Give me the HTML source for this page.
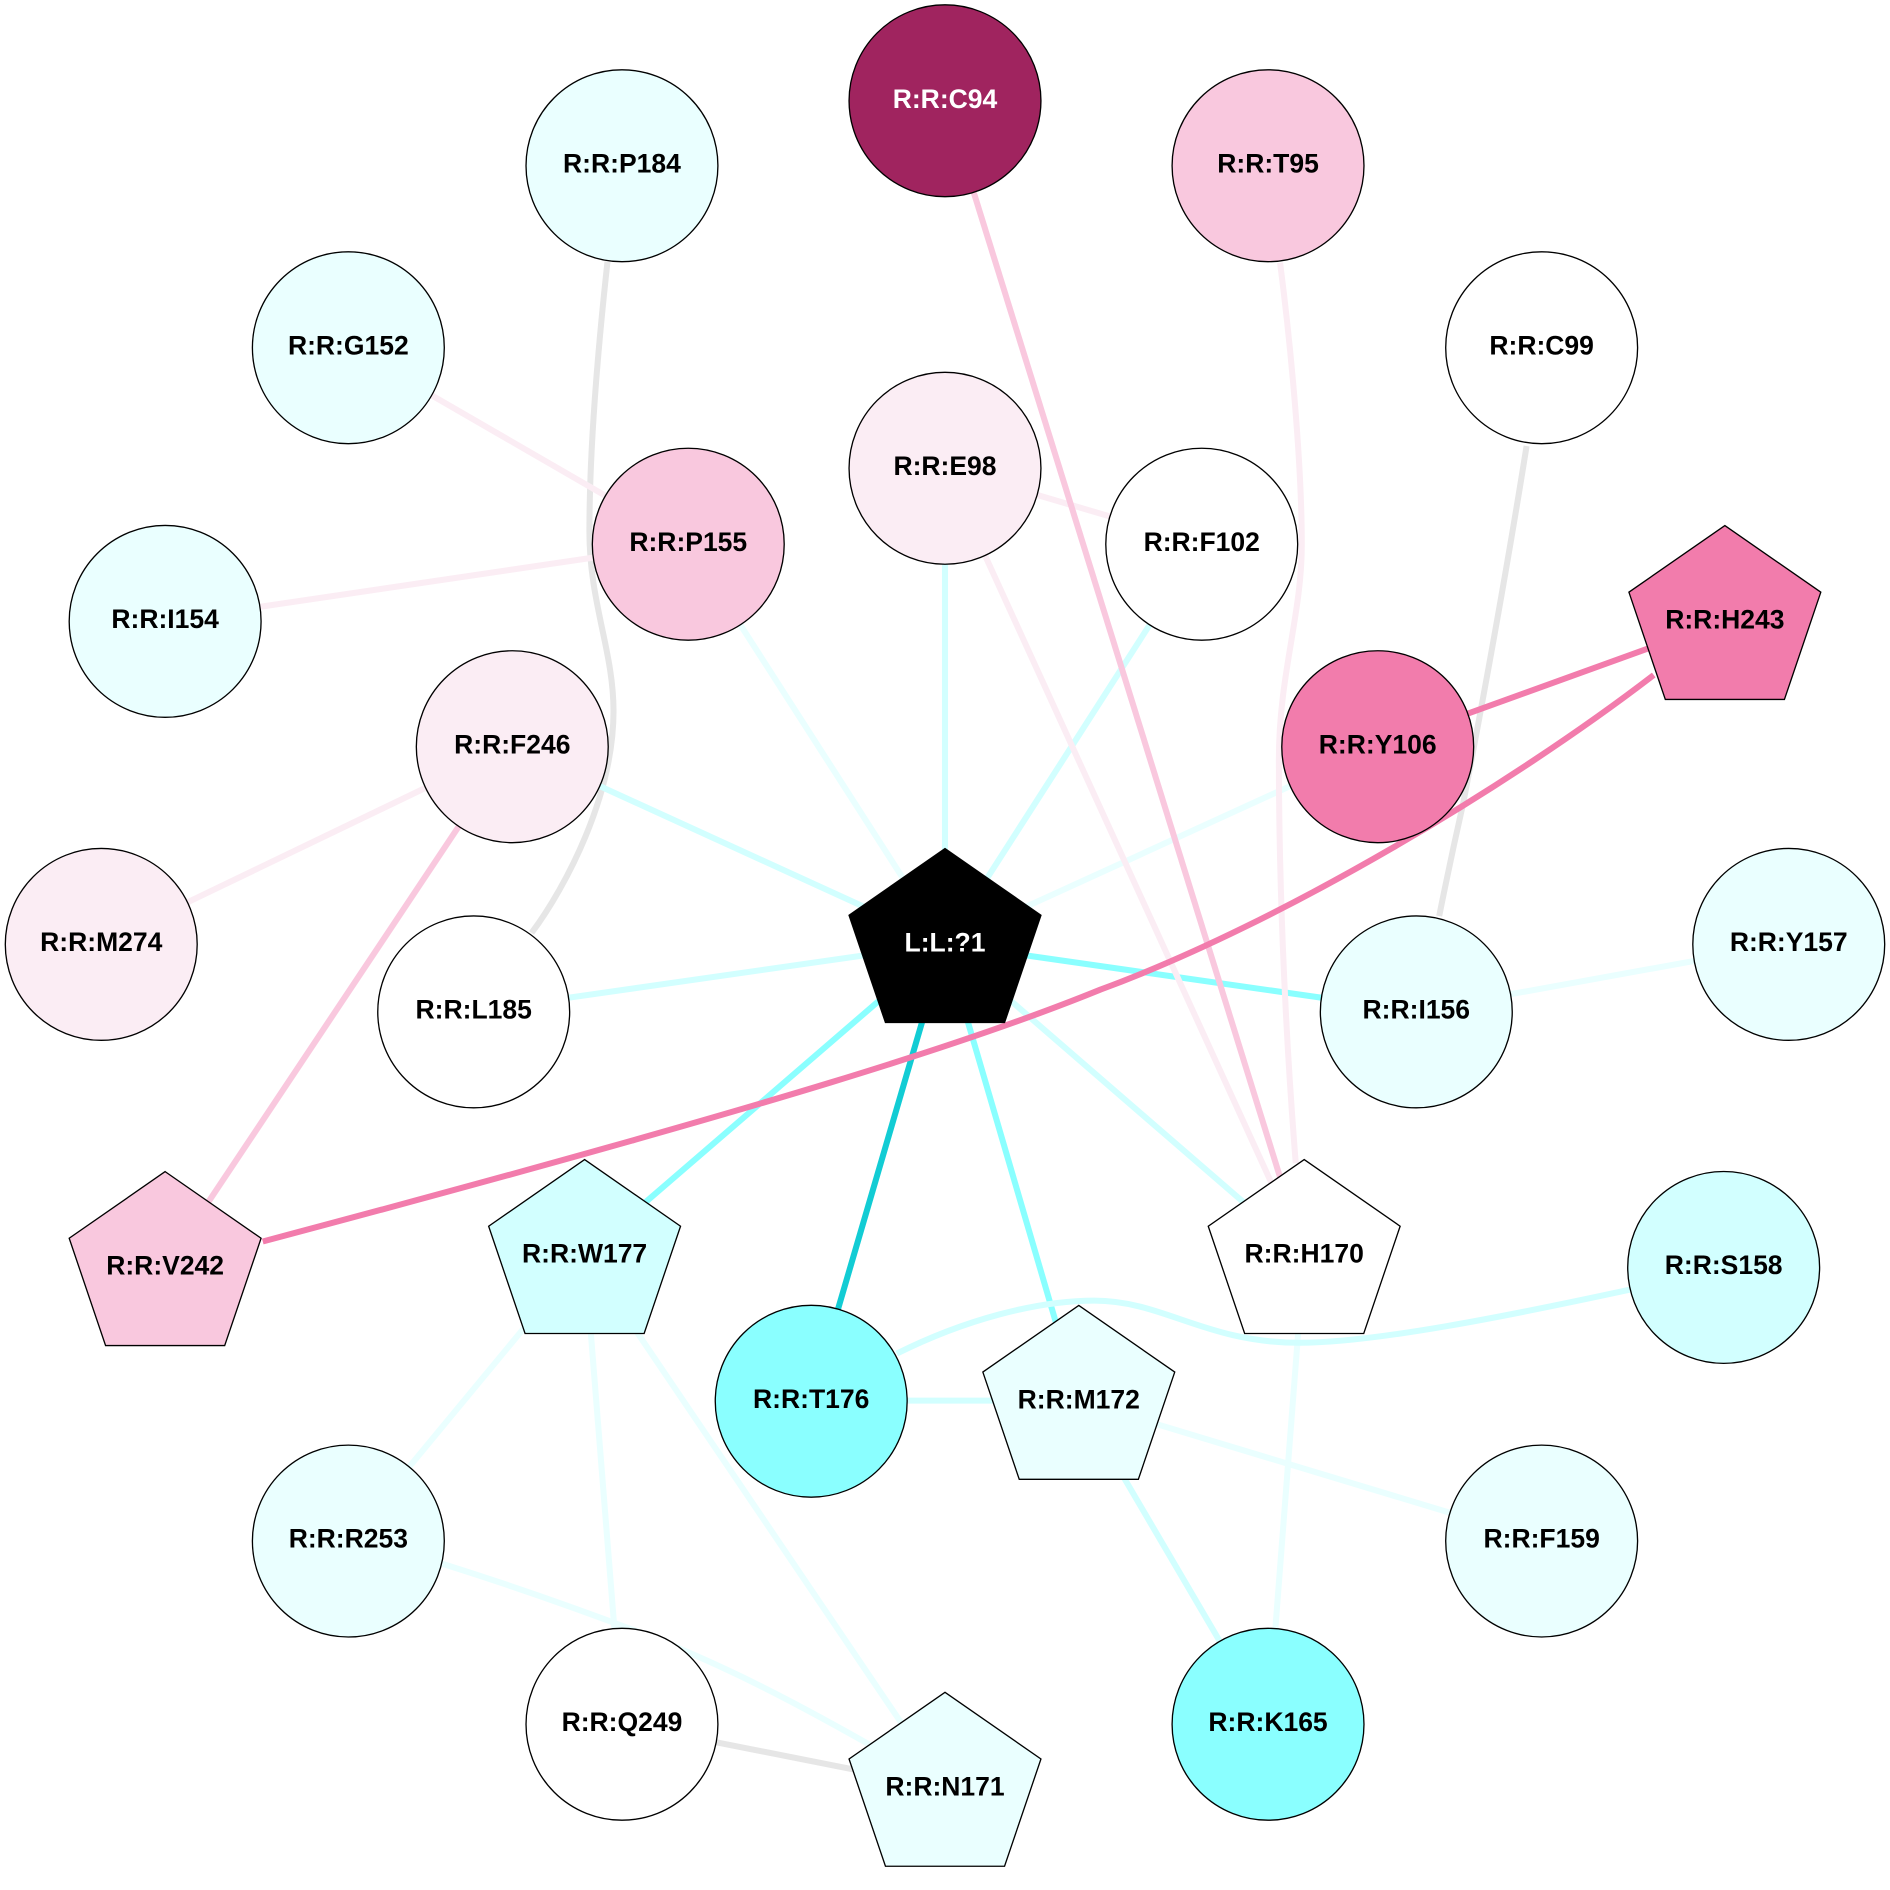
<!DOCTYPE html>
<html><head><meta charset="utf-8"><style>html,body{margin:0;padding:0;background:#fff}svg{display:block}text{font-family:"Liberation Sans",sans-serif;font-weight:bold;font-size:22px;text-anchor:middle;fill:#000}circle,polygon{stroke:#000;stroke-width:1.1}</style></head>
<body>
<svg xmlns="http://www.w3.org/2000/svg" width="1890" height="1890" viewBox="0 0 1568 1568">
<rect width="1568" height="1568" fill="#fff"/>
<g fill="none" stroke-width="5">
<g stroke="#e6e6e6">
<path d="M504 217C496 290 489 370 489 441C489 500 509 540 509 590C509 660 470 735 441 774"/>
<path d="M1266.5 370C1251 467 1233 567 1214 666C1207 697 1200 730 1194 760"/>
<line x1="516" y1="1430" x2="784" y2="1483"/>
</g>
<g stroke="#eaffff">
<line x1="571" y1="451" x2="784" y2="783"/>
<line x1="1143" y1="619" x2="784" y2="783"/>
<line x1="1175" y1="839" x2="1484" y2="783"/>
<line x1="895" y1="1162" x2="1279" y2="1278"/>
<line x1="1082" y1="1041" x2="1052" y2="1430"/>
<line x1="485" y1="1041" x2="289" y2="1278"/>
<line x1="485" y1="1041" x2="516" y2="1430"/>
<line x1="485" y1="1041" x2="784" y2="1483"/>
<path d="M366 1297C420 1314 480 1335 530 1354C600 1381 660 1412 740 1458"/>
</g>
<g stroke="#d2ffff">
<line x1="784" y1="388" x2="784" y2="783"/>
<line x1="997" y1="451" x2="784" y2="783"/>
<line x1="425" y1="619" x2="784" y2="783"/>
<line x1="393" y1="839" x2="784" y2="783"/>
<line x1="1082" y1="1041" x2="784" y2="783"/>
<line x1="673" y1="1162" x2="895" y2="1162"/>
<line x1="895" y1="1162" x2="1052" y2="1430"/>
</g>
<g stroke="#8affff">
<line x1="1175" y1="839" x2="784" y2="783"/>
<line x1="895" y1="1162" x2="784" y2="783"/>
<line x1="485" y1="1041" x2="784" y2="783"/>
</g>
<path stroke="#d2ffff" d="M1352 1070C1250 1092 1140 1114 1078 1114C1000 1114 965 1079 908 1079C860 1079 800 1095 744 1123"/>
<line x1="673" y1="1162" x2="784" y2="783" stroke="#12ccd4"/>
<g stroke="#fbedf4">
<line x1="289" y1="288" x2="571" y2="451"/>
<line x1="137" y1="515" x2="571" y2="451"/>
<line x1="784" y1="388" x2="997" y2="451"/>
<line x1="784" y1="388" x2="1082" y2="1041"/>
<line x1="425" y1="619" x2="84" y2="783"/>
<path d="M1062 218C1070 280 1080 380 1080 452C1080 510 1061 560 1061 630C1061 720 1065 840 1075 965"/>
</g>
<g stroke="#f9c8de">
<line x1="784" y1="83" x2="1082" y2="1041"/>
<line x1="425" y1="619" x2="137" y2="1051"/>
</g>
<g stroke="#f27cac">
<line x1="1143" y1="619" x2="1431" y2="515"/>
<path d="M1372 560C1255 650 1065 765 913 821C810 863 650 915 218 1030"/>
</g>
</g>
<circle cx="784" cy="83.6" r="79.6" fill="#a0245f"/><text x="784" y="89.6" style="fill:#fff">R:R:C94</text>
<circle cx="516" cy="137.5" r="79.6" fill="#eaffff"/><text x="516" y="143">R:R:P184</text>
<circle cx="1052" cy="137.5" r="79.6" fill="#f9c8de"/><text x="1052" y="143">R:R:T95</text>
<circle cx="289" cy="288.5" r="79.6" fill="#eaffff"/><text x="289" y="294">R:R:G152</text>
<circle cx="1279" cy="288.5" r="79.6" fill="#fff"/><text x="1279" y="294">R:R:C99</text>
<circle cx="784" cy="388.5" r="79.6" fill="#fbedf4"/><text x="784" y="394">R:R:E98</text>
<circle cx="997" cy="451.5" r="79.6" fill="#fff"/><text x="997" y="457">R:R:F102</text>
<circle cx="571" cy="451.5" r="79.6" fill="#f9c8de"/><text x="571" y="457">R:R:P155</text>
<circle cx="137" cy="515.5" r="79.6" fill="#eaffff"/><text x="137" y="521">R:R:I154</text>
<circle cx="425" cy="619.5" r="79.6" fill="#fbedf4"/><text x="425" y="625">R:R:F246</text>
<circle cx="1143" cy="619.5" r="79.6" fill="#f27cac"/><text x="1143" y="625">R:R:Y106</text>
<circle cx="84" cy="783.5" r="79.6" fill="#fbedf4"/><text x="84" y="789">R:R:M274</text>
<circle cx="1484" cy="783.5" r="79.6" fill="#eaffff"/><text x="1484" y="789">R:R:Y157</text>
<circle cx="393" cy="839.5" r="79.6" fill="#fff"/><text x="393" y="845">R:R:L185</text>
<circle cx="1175" cy="839.5" r="79.6" fill="#eaffff"/><text x="1175" y="845">R:R:I156</text>
<circle cx="1430" cy="1051.5" r="79.6" fill="#d2ffff"/><text x="1430" y="1057">R:R:S158</text>
<circle cx="673" cy="1162.5" r="79.6" fill="#8affff"/><text x="673" y="1168">R:R:T176</text>
<circle cx="1279" cy="1278.5" r="79.6" fill="#eaffff"/><text x="1279" y="1284">R:R:F159</text>
<circle cx="289" cy="1278.5" r="79.6" fill="#eaffff"/><text x="289" y="1284">R:R:R253</text>
<circle cx="516" cy="1430.5" r="79.6" fill="#fff"/><text x="516" y="1436">R:R:Q249</text>
<circle cx="1052" cy="1430.5" r="79.6" fill="#8affff"/><text x="1052" y="1436">R:R:K165</text>
<polygon points="1431,436 1510.6,491.3 1480.4,580.3 1381.6,580.3 1351.4,491.3" fill="#f27cac"/><text x="1431" y="521.5">R:R:H243</text>
<polygon points="784,704 863.6,759.3 833.4,848.3 734.6,848.3 704.4,759.3" fill="#000"/><text x="784" y="789.5" style="fill:#fff">L:L:?1</text>
<polygon points="137,972 216.6,1027.3 186.4,1116.3 87.6,1116.3 57.4,1027.3" fill="#f9c8de"/><text x="137" y="1057.5">R:R:V242</text>
<polygon points="485,962 564.6,1017.3 534.4,1106.3 435.6,1106.3 405.4,1017.3" fill="#d2ffff"/><text x="485" y="1047.5">R:R:W177</text>
<polygon points="1082,962 1161.6,1017.3 1131.4,1106.3 1032.6,1106.3 1002.4,1017.3" fill="#fff"/><text x="1082" y="1047.5">R:R:H170</text>
<polygon points="895,1083 974.6,1138.3 944.4,1227.3 845.6,1227.3 815.4,1138.3" fill="#eaffff"/><text x="895" y="1168.5">R:R:M172</text>
<polygon points="784,1404 863.6,1459.3 833.4,1548.3 734.6,1548.3 704.4,1459.3" fill="#eaffff"/><text x="784" y="1489.5">R:R:N171</text>
</svg>
</body></html>
